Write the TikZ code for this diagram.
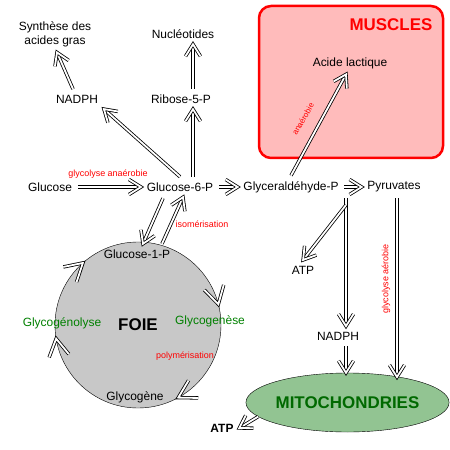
\documentclass[tikz,border=0pt]{standalone}
\usepackage{fontspec}
\setmainfont{Liberation Sans}
\usetikzlibrary{shapes.geometric,calc,decorations.markings}

\definecolor{rosemuscle}{RGB}{255,187,187}
\definecolor{grisfoie}{RGB}{200,200,200}
\definecolor{vertmito}{RGB}{146,196,146}
\definecolor{vertfonce}{RGB}{0,105,0}
\definecolor{vertlabel}{RGB}{0,128,0}

\tikzset{
	trait/.style={double, double distance=1.8bp, line width=0.8bp},
	fleche/.style={draw, trait, postaction={decorate, decoration={markings,
		mark=at position 1 with {\draw[trait] (-12bp,7.5bp) -- (0,0) -- (-12bp,-7.5bp);}}}}
}

\begin{document}
\begin{tikzpicture}[x=1bp,y=-1bp]
	\useasboundingbox (0,0) rectangle (450,450);
	% muscles
	\draw[red, line width=2.5bp, fill=rosemuscle, rounded corners=12bp] (259,6) rectangle (443,158);
	\node[text=red, font=\fontsize{17}{20}\selectfont\bfseries] (muscles) at (391,25) {MUSCLES};
	% foie et mitochondries
	\node[circle, draw, fill=grisfoie, minimum size=166bp, inner sep=0pt, font=\fontsize{17}{20}\selectfont\bfseries] (foie) at (138,325) {FOIE};
	\node[ellipse, draw, fill=vertmito, minimum width=173bp, minimum height=59bp, inner sep=0pt, text=vertfonce, font=\fontsize{17}{20}\selectfont\bfseries] (mito) at (347.5,402.5) {MITOCHONDRIES};
	\begin{scope}[every node/.style={font=\fontsize{12}{14}\selectfont, outer sep=2.5bp}]
		\node[align=center] (synth) at (55,34) {Synthèse des\\acides gras};
		\node (nucleo) at (183,34) {Nucléotides};
		\node (nadphA) at (77,99) {NADPH};
		\node (ribose) at (181,99) {Ribose-5-P};
		\node (acide) at (350,63) {Acide lactique};
		\node (glucose) at (50,187) {Glucose};
		\node (g6p) at (180,187) {Glucose-6-P};
		\node (glyc) at (291,187) {Glyceraldéhyde-P};
		\node (pyr) at (394,187) {Pyruvates};
		\node (atpA) at (303,270) {ATP};
		\node (nadphB) at (338,336) {NADPH};
		\node (g1p) at (137,254) {Glucose-1-P};
		\node (glycogene) at (135,397) {Glycogène};
		\node[text=vertlabel] (glycogenolyse) at (62,323) {Glycogénolyse};
		\node[text=vertlabel] (glycogenese) at (210,321) {Glycogenèse};
		\node[font=\fontsize{12}{14}\selectfont\bfseries] (atpB) at (222,428) {ATP};
	\end{scope}
	\begin{scope}[every node/.style={text=red, font=\fontsize{9}{10}\selectfont}]
		\node at (108,174) {glycolyse anaérobie};
		\node at (202,224) {isomérisation};
		\node at (185,356) {polymérisation};
		\node[rotate=60, font=\fontsize{8}{9}\selectfont, inner sep=0pt] at (303,119) {anaérobie};
		\node[rotate=90] at (386,279) {glycolyse aérobie};
	\end{scope}
	\coordinate (rx) at (193,0);
	\coordinate (vx) at (346,0);
	\coordinate (px) at (397,0);
	\coordinate (branche) at (346,205);
	\begin{scope}[every edge/.style={fleche}]
		\path (glucose) edge (g6p);
		\path (g6p.north) edge (nadphA.south east);
		\path (g6p.north -| rx) edge (ribose.south -| rx);
		\path (ribose.north -| rx) edge (nucleo.south -| rx);
		\path ([xshift=-4bp]nadphA.north) edge ([xshift=2bp]synth.south);
		\path (g6p) edge (glyc);
		\path (glyc) edge (pyr);
		\path (glyc.north) edge ([xshift=-4bp]acide.south);
		\path (glyc.south -| vx) edge (nadphB.north -| vx);
		\path (branche) edge (atpA.north);
		\path (nadphB.south -| vx) edge (mito.north -| vx);
		\path (pyr.south -| px) edge (mito.26 -| px);
		\path (mito.189) edge (atpB.east);
		\path ([xshift=-17bp,yshift=-1bp]g6p.south) edge ([xshift=6bp]g1p.north);
		\path ([xshift=25bp]g1p.north) edge ([xshift=3bp]g6p.south);
	\end{scope}
	% pointes du cycle du glycogene
	\foreach \a in {-131.6,-14.5,61,-189.5} {
		\draw[trait] ($(foie.center)+(\a-60:20)+(\a:83)$) -- ($(foie.center)+(\a:83)$) -- ++(\a-120:20);
	}
\end{tikzpicture}
\end{document}
